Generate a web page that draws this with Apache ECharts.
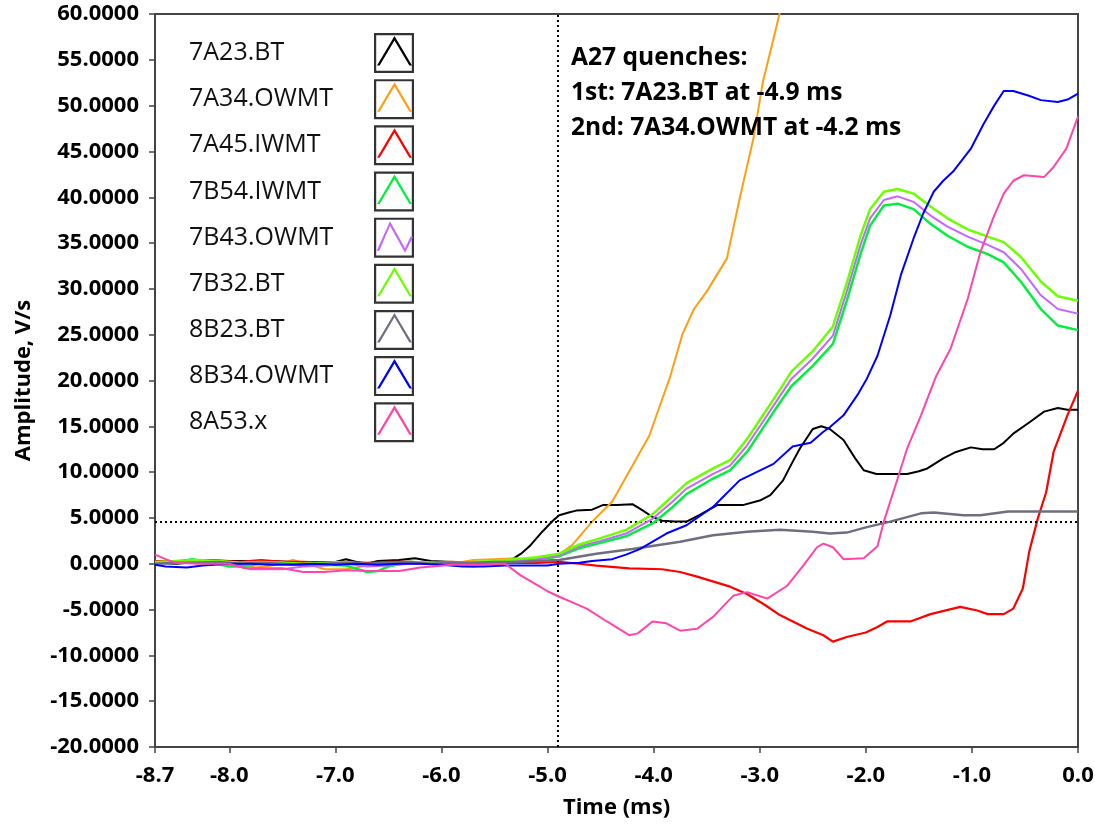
<!DOCTYPE html>
<html><head><meta charset="utf-8">
<script src="https://cdn.jsdelivr.net/npm/echarts@6/dist/echarts.min.js"></script>
<style>html,body{margin:0;padding:0;background:#fff}#chart{width:1095px;height:826px}</style>
</head><body><div id="chart"></div>
<script>
const seriesNames = ['7A23.BT','7A34.OWMT','7A45.IWMT','7B54.IWMT','7B43.OWMT','7B32.BT','8B23.BT','8B34.OWMT','8A53.x'];
const seriesColors = ['#000000','#FF9E14','#FF0000','#00F03C','#C466FF','#6CFF00','#6E6E80','#0000FF','#FF44AA'];
const seriesWidths = [2,2,2.2,2.5,2,2.5,2.5,2,2];

const xTickValues = [-8.7,-8,-7,-6,-5,-4,-3,-2,-1,0];
const quenchTime = -4.9;
const threshold = 4.6;
const annotationLines = ['A27 quenches:','1st: 7A23.BT at -4.9 ms','2nd: 7A34.OWMT at -4.2 ms'];

const s7A23BT = [[-8.7,0.1],[-8.5,0.0],[-8.3,0.2],[-8.2,0.4],[-8.0,0.3],[-7.8,0.3],[-7.6,0.3],[-7.4,0.2],[-7.2,0.2],[-7.0,0.2],[-6.9,0.5],[-6.8,0.2],[-6.7,0.0],[-6.6,0.3],[-6.4,0.4],[-6.25,0.6],[-6.1,0.3],[-5.9,0.2],[-5.7,0.2],[-5.5,0.2],[-5.4,0.2],[-5.33,0.5],[-5.25,1.1],[-5.17,1.9],[-5.05,3.5],[-4.95,4.7],[-4.89,5.3],[-4.8,5.6],[-4.73,5.8],[-4.58,5.9],[-4.48,6.4],[-4.35,6.4],[-4.2,6.5],[-4.1,5.8],[-4.01,5.1],[-3.92,4.7],[-3.8,4.6],[-3.69,4.6],[-3.57,5.3],[-3.4,6.4],[-3.16,6.4],[-3.0,6.9],[-2.9,7.5],[-2.78,9.1],[-2.7,10.9],[-2.62,12.6],[-2.5,14.7],[-2.42,15.0],[-2.34,14.7],[-2.21,13.5],[-2.1,11.5],[-2.02,10.2],[-1.9,9.8],[-1.7,9.8],[-1.61,9.8],[-1.5,10.1],[-1.42,10.4],[-1.27,11.5],[-1.15,12.2],[-1.01,12.7],[-0.9,12.5],[-0.79,12.5],[-0.7,13.2],[-0.61,14.2],[-0.45,15.5],[-0.32,16.6],[-0.19,17.0],[-0.1,16.8],[0,16.8]];
const s7A34OWMT = [[-8.7,0.1],[-8.5,0.2],[-8.3,0.2],[-8.1,0.1],[-7.9,-0.1],[-7.75,-0.4],[-7.6,-0.2],[-7.4,0.4],[-7.3,0.1],[-7.1,-0.6],[-6.9,-0.6],[-6.7,-0.2],[-6.5,-0.1],[-6.3,0.1],[-6.1,0.0],[-5.9,0.0],[-5.7,0.4],[-5.5,0.5],[-5.3,0.6],[-5.1,0.3],[-5.0,0.3],[-4.91,0.9],[-4.77,2.0],[-4.58,4.6],[-4.39,6.8],[-4.2,10.7],[-4.04,14.0],[-3.94,17.3],[-3.85,20.2],[-3.73,25.0],[-3.62,27.8],[-3.5,29.7],[-3.31,33.3],[-3.19,39.8],[-3.06,46.4],[-2.97,52.6],[-2.87,57.3],[-2.81,60.2],[-2.75,63.0]];
const s7A45IWMT = [[-8.7,0.3],[-8.5,0.3],[-8.3,0.4],[-8.1,0.3],[-7.9,0.2],[-7.7,0.4],[-7.5,0.2],[-7.3,0.2],[-7.1,0.1],[-6.9,0.2],[-6.7,0.1],[-6.5,0.2],[-6.3,0.2],[-6.1,0.1],[-5.9,0.2],[-5.7,0.1],[-5.5,0.1],[-5.3,0.1],[-5.1,0.1],[-4.89,0.2],[-4.7,0.0],[-4.54,-0.2],[-4.23,-0.5],[-3.92,-0.6],[-3.75,-0.9],[-3.59,-1.4],[-3.28,-2.5],[-3.12,-3.3],[-2.95,-4.5],[-2.81,-5.6],[-2.55,-7.1],[-2.4,-7.8],[-2.31,-8.5],[-2.18,-8.0],[-2.0,-7.5],[-1.89,-6.9],[-1.8,-6.3],[-1.58,-6.3],[-1.39,-5.5],[-1.11,-4.7],[-0.95,-5.1],[-0.85,-5.5],[-0.7,-5.5],[-0.61,-4.9],[-0.52,-2.7],[-0.46,1.3],[-0.38,4.9],[-0.3,7.8],[-0.23,12.2],[-0.1,16.2],[0,18.9]];
const s7B54IWMT = [[-8.7,0.1],[-8.5,0.2],[-8.35,0.5],[-8.2,0.2],[-8.0,-0.3],[-7.9,-0.3],[-7.7,0.0],[-7.5,0.1],[-7.3,-0.2],[-7.1,-0.1],[-6.9,-0.2],[-6.7,-0.9],[-6.6,-0.8],[-6.5,-0.3],[-6.3,0.2],[-6.1,0.1],[-5.9,-0.1],[-5.7,-0.3],[-5.5,0.0],[-5.3,0.3],[-5.1,0.5],[-4.89,0.8],[-4.7,1.7],[-4.5,2.3],[-4.26,3.0],[-4.01,4.4],[-3.82,6.2],[-3.69,7.6],[-3.44,9.3],[-3.28,10.2],[-3.12,12.2],[-2.97,14.8],[-2.81,17.6],[-2.7,19.4],[-2.5,21.6],[-2.31,24.0],[-2.18,28.7],[-2.05,33.8],[-1.96,36.9],[-1.83,39.1],[-1.70,39.3],[-1.55,38.7],[-1.39,37.1],[-1.23,35.8],[-1.04,34.6],[-0.85,33.8],[-0.70,32.9],[-0.54,30.8],[-0.35,27.8],[-0.19,26.0],[0,25.5]];
const s7B43OWMT = [[-8.7,0.0],[-8.5,0.1],[-8.3,0.2],[-8.1,0.1],[-7.9,-0.3],[-7.8,-0.6],[-7.5,-0.6],[-7.3,-0.3],[-7.1,-0.2],[-6.9,0.0],[-6.7,-0.3],[-6.5,-0.2],[-6.3,0.0],[-6.1,0.0],[-5.9,0.0],[-5.7,0.1],[-5.5,0.2],[-5.3,0.3],[-5.1,0.5],[-4.89,0.9],[-4.7,1.9],[-4.5,2.5],[-4.26,3.3],[-4.01,4.9],[-3.82,6.8],[-3.69,8.2],[-3.44,9.8],[-3.28,10.7],[-3.12,12.9],[-2.97,15.5],[-2.81,18.3],[-2.7,20.2],[-2.5,22.4],[-2.31,24.9],[-2.18,29.7],[-2.05,34.8],[-1.96,37.7],[-1.83,39.7],[-1.70,40.1],[-1.55,39.5],[-1.39,38.0],[-1.23,36.8],[-1.04,35.7],[-0.85,34.8],[-0.70,34.0],[-0.54,32.2],[-0.35,29.3],[-0.19,27.8],[0,27.3]];
const s7B32BT = [[-8.7,0.2],[-8.5,0.3],[-8.3,0.4],[-8.1,0.3],[-7.9,0.1],[-7.7,0.2],[-7.5,0.1],[-7.3,0.0],[-7.1,0.1],[-6.9,0.2],[-6.7,-0.1],[-6.5,0.0],[-6.3,0.2],[-6.1,0.1],[-5.9,0.1],[-5.7,0.2],[-5.5,0.3],[-5.3,0.5],[-5.1,0.7],[-4.89,1.1],[-4.7,2.1],[-4.5,2.8],[-4.26,3.7],[-4.01,5.4],[-3.82,7.4],[-3.69,8.8],[-3.44,10.4],[-3.28,11.3],[-3.12,13.6],[-2.97,16.2],[-2.81,19.0],[-2.7,21.0],[-2.5,23.2],[-2.31,25.9],[-2.18,30.6],[-2.05,35.8],[-1.96,38.7],[-1.83,40.6],[-1.70,40.9],[-1.55,40.4],[-1.39,39.0],[-1.23,37.7],[-1.04,36.5],[-0.85,35.7],[-0.70,35.1],[-0.54,33.5],[-0.35,30.8],[-0.19,29.2],[0,28.7]];
const s8B23BT = [[-8.7,0.0],[-8.5,0.1],[-8.3,0.1],[-8.1,0.2],[-7.9,0.0],[-7.7,0.1],[-7.5,0.0],[-7.3,-0.1],[-7.1,0.0],[-6.9,0.1],[-6.7,0.0],[-6.5,0.1],[-6.3,0.2],[-6.1,0.0],[-5.9,0.1],[-5.7,0.1],[-5.5,0.2],[-5.3,0.2],[-5.1,0.3],[-4.89,0.4],[-4.54,1.1],[-4.2,1.6],[-3.75,2.4],[-3.44,3.1],[-3.12,3.5],[-2.81,3.7],[-2.5,3.5],[-2.34,3.3],[-2.18,3.4],[-1.99,4.0],[-1.77,4.6],[-1.48,5.5],[-1.36,5.6],[-1.08,5.3],[-0.92,5.3],[-0.66,5.7],[0,5.7]];
const s8B34OWMT = [[-8.7,-0.1],[-8.6,-0.3],[-8.4,-0.4],[-8.25,-0.2],[-8.0,0.0],[-7.8,0.0],[-7.6,-0.1],[-7.4,-0.1],[-7.2,0.0],[-7.0,-0.1],[-6.8,0.0],[-6.6,-0.1],[-6.4,0.0],[-6.2,0.0],[-6.0,-0.1],[-5.8,-0.3],[-5.6,-0.3],[-5.4,-0.2],[-5.2,-0.2],[-5.0,-0.2],[-4.89,0.0],[-4.7,0.1],[-4.58,0.3],[-4.39,0.5],[-4.26,1.0],[-4.13,1.6],[-3.88,3.3],[-3.69,4.2],[-3.44,6.2],[-3.19,9.1],[-2.87,10.9],[-2.69,12.8],[-2.52,13.2],[-2.4,14.4],[-2.34,14.9],[-2.21,16.2],[-2.08,18.4],[-1.99,20.2],[-1.89,22.7],[-1.77,27.1],[-1.67,31.5],[-1.55,35.5],[-1.46,38.2],[-1.36,40.6],[-1.27,41.8],[-1.17,42.9],[-1.01,45.3],[-0.89,48.0],[-0.79,50.0],[-0.7,51.6],[-0.61,51.6],[-0.47,51.1],[-0.35,50.6],[-0.19,50.4],[-0.09,50.7],[0,51.3]];
const s8A53x = [[-8.7,1.0],[-8.6,0.5],[-8.5,0.1],[-8.3,0.0],[-8.0,0.0],[-7.85,-0.5],[-7.5,-0.5],[-7.3,-0.9],[-7.1,-0.9],[-6.9,-0.7],[-6.65,-0.8],[-6.4,-0.8],[-6.2,-0.4],[-5.9,-0.1],[-5.6,-0.1],[-5.4,0.0],[-5.25,-1.3],[-5.1,-2.3],[-5.0,-3.0],[-4.89,-3.6],[-4.75,-4.3],[-4.63,-4.9],[-4.44,-6.3],[-4.23,-7.8],[-4.15,-7.6],[-4.01,-6.3],[-3.88,-6.5],[-3.75,-7.3],[-3.59,-7.1],[-3.44,-5.8],[-3.25,-3.5],[-3.12,-3.1],[-2.93,-3.8],[-2.74,-2.4],[-2.59,-0.2],[-2.46,1.8],[-2.40,2.2],[-2.31,1.8],[-2.21,0.5],[-2.02,0.6],[-1.89,1.9],[-1.83,4.6],[-1.70,9.3],[-1.61,12.6],[-1.48,16.2],[-1.34,20.4],[-1.20,23.5],[-1.04,28.9],[-0.92,34.0],[-0.79,38.0],[-0.70,40.4],[-0.61,41.8],[-0.51,42.4],[-0.32,42.2],[-0.23,43.3],[-0.11,45.3],[0,48.8]];

const seriesData = [s7A23BT,s7A34OWMT,s7A45IWMT,s7B54IWMT,s7B43OWMT,s7B32BT,s8B23BT,s8B34OWMT,s8A53x];

const FONT = "'Open Sans', 'DejaVu Sans', sans-serif";
const framePath = 'path://M0,0H40V40H0Z M2.2,2.2V37.8H37.8V2.2Z';
const caretPath = 'path://M0,0L0.01,0L0,0.01Z M40,40L39.99,40L40,39.99Z M3,32.5L20.5,3L38,32.5L35.4,32.5L20.5,7.4L5.6,32.5Z';
const zigPath = 'path://M0,0L0.01,0L0,0.01Z M40,40L39.99,40L40,39.99Z M2.7,33L16,3.5L31,30.5L36.8,18.6L39.2,19.4L31,35.2L16,8L5.3,33Z';

const legendBase = {orient:'vertical', top:33, padding:0, itemGap:6.16, itemHeight:40, selectedMode:false};

const chart = echarts.init(document.getElementById('chart'), null, {renderer:'canvas'});
chart.setOption({
  animation:false,
  backgroundColor:'#ffffff',
  title:{text:annotationLines.join('\n'), left:571, top:40, padding:0,
    textStyle:{fontFamily:FONT, fontWeight:'bold', fontSize:24.6, lineHeight:35, color:'#000'}},
  grid:{left:155, right:17, top:14, bottom:79, show:true, borderColor:'#444', borderWidth:2, containLabel:false, outerBoundsMode:'none'},
  legend:[
    Object.assign({}, legendBase, {data:seriesNames, left:183, itemWidth:1, icon:'rect',
      itemStyle:{color:'rgba(0,0,0,0)', borderWidth:0},
      textStyle:{fontFamily:FONT, fontSize:25, color:'#111'}}),
    Object.assign({}, legendBase, {data:seriesNames, left:374, itemWidth:40, icon:framePath,
      itemStyle:{color:'#333', borderWidth:0}, formatter:()=>'', textStyle:{fontSize:2}}),
    Object.assign({}, legendBase, {data:seriesNames.map((n,i)=>({name:n, icon: i===4 ? zigPath : caretPath})),
      left:374, itemWidth:40, itemStyle:{borderWidth:0}, formatter:()=>'', textStyle:{fontSize:2}})
  ],
  xAxis:{type:'value', min:-8.7, max:0,
    name:'Time (ms)', nameLocation:'middle', nameGap:50,
    nameTextStyle:{fontFamily:FONT, fontWeight:'bold', fontSize:22, color:'#000'},
    axisLine:{show:true, onZero:false, lineStyle:{color:'#444', width:2}},
    axisTick:{show:true, length:6, customValues:xTickValues, lineStyle:{color:'#444', width:1.5}},
    axisLabel:{customValues:xTickValues, formatter:v=>Number(v).toFixed(1), margin:18,
      fontFamily:FONT, fontWeight:'bold', fontSize:22, color:'#000', showMinLabel:true, showMaxLabel:true},
    splitLine:{show:false}},
  yAxis:{type:'value', min:-20, max:60, interval:5,
    name:'Amplitude, V/s', nameLocation:'middle', nameGap:120, nameRotate:90,
    nameTextStyle:{fontFamily:FONT, fontWeight:'bold', fontSize:22, color:'#000'},
    axisLine:{show:true, onZero:false, lineStyle:{color:'#444', width:2}},
    axisTick:{show:true, length:6, lineStyle:{color:'#444', width:1.5}},
    axisLabel:{formatter:v=>Number(v).toFixed(4), margin:16,
      fontFamily:FONT, fontWeight:'bold', fontSize:22, color:'#000', showMinLabel:true, showMaxLabel:true},
    splitLine:{show:false}},
  series: seriesNames.map((name,i)=>{
    const s = {name, type:'line', data:seriesData[i], showSymbol:false, symbol:'none', clip:true,
      color:seriesColors[i], lineStyle:{color:seriesColors[i], width:seriesWidths[i]},
      emphasis:{disabled:true}, z:2+i};
    if (i===0) {
      s.markLine = {silent:true, symbol:['none','none'], label:{show:false}, animation:false,
        lineStyle:{color:'#000', type:[2,3], width:2}, emphasis:{disabled:true},
        data:[{xAxis:quenchTime},{yAxis:threshold}]};
    }
    return s;
  })
});
</script></body></html>
